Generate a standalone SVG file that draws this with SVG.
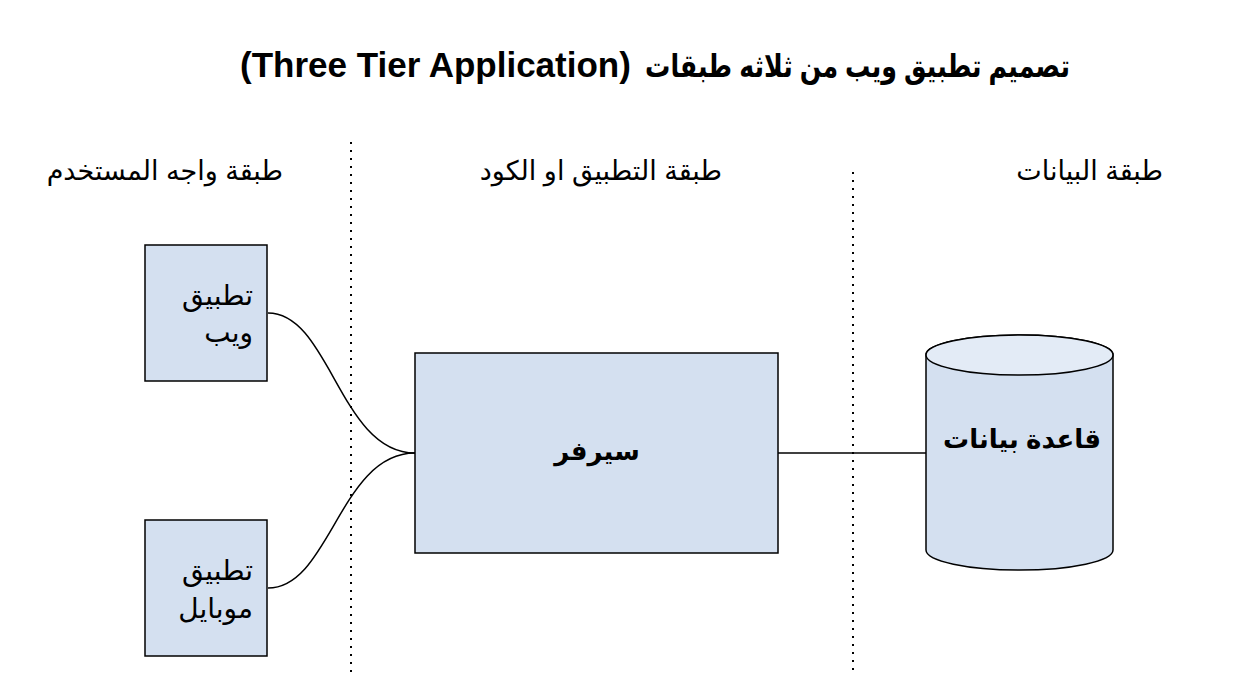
<svg xmlns="http://www.w3.org/2000/svg" width="1246" height="674" viewBox="0 0 1246 674">
<style>
text{font-family:"Liberation Sans","DejaVu Sans",Arial,sans-serif;fill:#000}
.t{font-size:35px;font-weight:bold}
.ta{font-size:32px;font-weight:bold}
.h{font-size:27px}
.n{font-size:28px}
.b{font-size:26px;font-weight:bold}
.box{fill:#d4e0f0;stroke:#000;stroke-width:1.5}
.sep{stroke:#000;stroke-width:2;stroke-dasharray:2 6;fill:none}
.conn path{fill:none;stroke:#000;stroke-width:1.5}
</style>
<rect width="1246" height="674" fill="#fff"/>
<g id="title">
<text class="ta" x="1070" y="77" direction="rtl" text-anchor="start" textLength="425" lengthAdjust="spacingAndGlyphs">تصميم تطبيق ويب من ثلاثه طبقات</text>
<text class="t" x="240" y="77" text-anchor="start">(Three Tier Application)</text>
</g>
<g id="separators">
<line class="sep" x1="351" y1="142" x2="351" y2="672"/>
<line class="sep" x1="853" y1="172" x2="853" y2="672"/>
</g>
<g id="headers">
<text class="h" x="283" y="180" direction="rtl" text-anchor="start">طبقة واجه المستخدم</text>
<text class="h" x="722" y="180" direction="rtl" text-anchor="start">طبقة التطبيق او الكود</text>
<text class="h" x="1163" y="180" direction="rtl" text-anchor="start">طبقة البيانات</text>
</g>
<g class="conn" id="connectors">
<path d="M268,313 C330,313 340,453 415,453"/>
<path d="M268,588 C330,588 340,453 415,453"/>
<path d="M778,453 L926,453"/>
</g>
<g id="web-app">
<rect class="box" x="145" y="245" width="122" height="136"/>
<text class="n" x="253" y="305" direction="rtl" text-anchor="start">تطبيق</text>
<text class="n" x="253" y="342" direction="rtl" text-anchor="start">ويب</text>
</g>
<g id="mobile-app">
<rect class="box" x="145" y="520" width="122" height="136"/>
<text class="n" x="253" y="580" direction="rtl" text-anchor="start">تطبيق</text>
<text class="n" x="253" y="618" direction="rtl" text-anchor="start">موبايل</text>
</g>
<g id="server">
<rect class="box" x="415" y="353" width="363" height="200"/>
<text class="b" x="597" y="460" text-anchor="middle" direction="rtl">سيرفر</text>
</g>
<g id="database">
<path class="box" d="M926,355 A93.5,20 0 0 1 1113,355 L1113,550 A93.5,20 0 0 1 926,550 Z"/>
<ellipse cx="1019.5" cy="355" rx="93.5" ry="20" fill="#e3ebf6" stroke="#000" stroke-width="1.5"/>
<text class="b" x="1022" y="448" text-anchor="middle" direction="rtl">قاعدة بيانات</text>
</g>
</svg>
